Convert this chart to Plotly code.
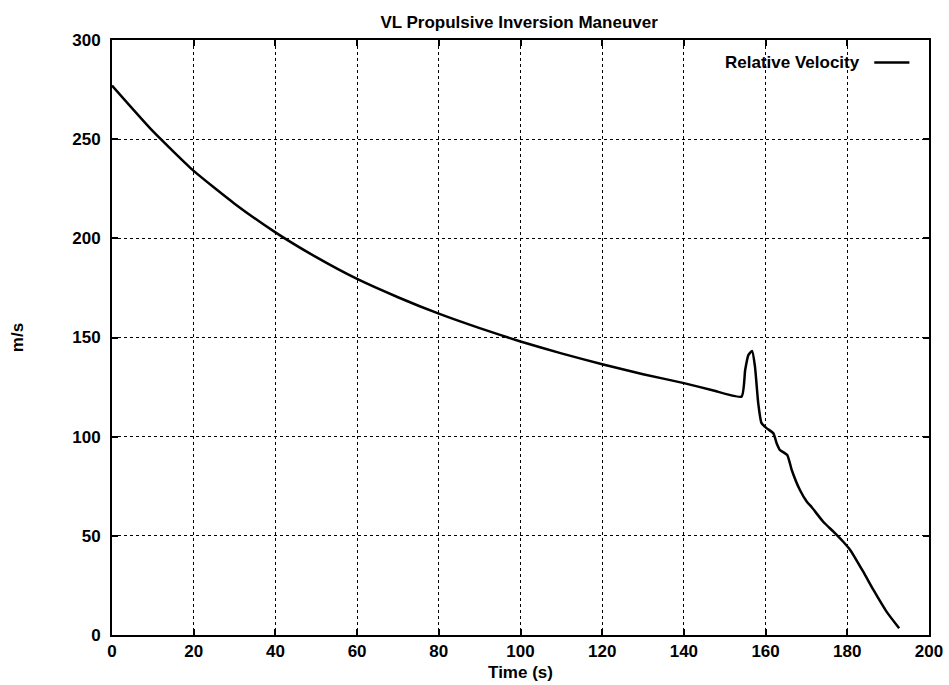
import plotly.graph_objects as go

# Relative velocity during the VL propulsive inversion maneuver
time_s = [0, 10, 20, 30, 40, 50, 60, 70, 80, 90, 100, 110, 120, 130, 140, 147,
          154.1, 155.0, 155.8, 156.7, 157.4, 158.2, 159.0, 160.3, 161.9, 162.7,
          163.5, 165.3, 166.4, 168.4, 170.1, 171.3, 174.1, 176.6, 179.0, 180.7,
          183.9, 186.4, 189.6, 192.7]
velocity = [277, 254, 234, 217.5, 203, 190.5, 179.5, 170.3, 162, 154.7, 148, 142,
            136.5, 131.5, 127, 123.4,
            120.2, 133.6, 141.2, 143.2, 135.3, 116.8, 106.8, 104.2, 101.7, 96.7,
            93.3, 90.8, 83.2, 73.1, 67.2, 64.4, 57.1, 52.1, 47.0, 42.9,
            31.9, 22.7, 11.8, 3.4]

x_ticks = [0, 20, 40, 60, 80, 100, 120, 140, 160, 180, 200]
y_ticks = [0, 50, 100, 150, 200, 250, 300]

FONT = "Liberation Sans, Arial, Helvetica, sans-serif"
TEXT = dict(family=FONT, size=17, color="black", weight="bold")

fig = go.Figure()
fig.add_trace(go.Scatter(
    x=time_s, y=velocity, mode="lines", name="Relative Velocity",
    line=dict(color="black", width=2.5, shape="spline", smoothing=0.5),
    showlegend=False,
))

axis_common = dict(
    showline=True, linecolor="black", linewidth=2, mirror="ticks",
    ticks="inside", ticklen=6, tickwidth=2, tickcolor="black",
    showgrid=True, gridcolor="black", gridwidth=1, griddash="dot",
    zeroline=False, automargin=False,
    tickfont=TEXT,
)

fig.update_xaxes(
    range=[0, 200], tickvals=x_ticks, ticktext=[str(v) for v in x_ticks],
    title=dict(text="Time (s)", standoff=6, font=TEXT),
    **axis_common,
)
fig.update_yaxes(
    range=[0, 300], tickvals=y_ticks, ticktext=[str(v) for v in y_ticks],
    ticklabelstandoff=6,
    title=dict(text="m/s", standoff=44, font=TEXT),
    **axis_common,
)

# Key: label followed by a short line sample, top right inside the axes
fig.add_annotation(
    xref="paper", yref="paper", x=0.918, y=0.962, xanchor="right", yanchor="middle",
    text="Relative Velocity", showarrow=False, font=TEXT,
)
fig.add_shape(type="line", xref="paper", yref="paper",
              x0=0.933, x1=0.976, y0=0.962, y1=0.962,
              line=dict(color="black", width=2.5))

fig.update_layout(
    width=949, height=685,
    margin=dict(l=112, r=20, t=40, b=50),
    paper_bgcolor="white", plot_bgcolor="white",
    title=dict(text="VL Propulsive Inversion Maneuver", x=0.547, xanchor="center",
               y=0.968, yanchor="middle", font=TEXT),
)

fig.write_html("out.html")
